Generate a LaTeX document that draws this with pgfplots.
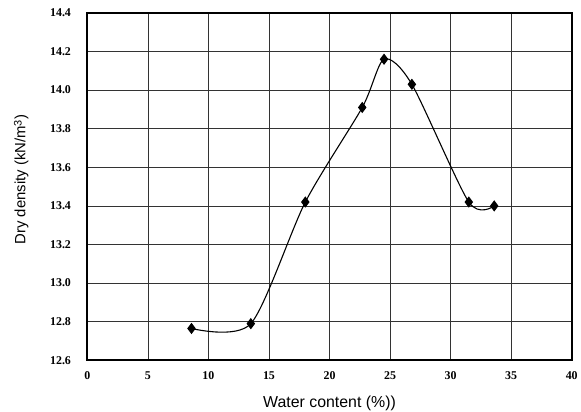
\documentclass[border=0pt]{standalone}
\usepackage{fontspec}
\setmainfont{Liberation Serif}
\setsansfont{Liberation Sans}
\usepackage{pgfplots}
\pgfplotsset{compat=1.18}

\begin{document}
\begin{tikzpicture}
\begin{axis}[
    scale only axis, width=488pt, height=350pt,
    xmin=0, xmax=40, ymin=12.6, ymax=14.4,
    xtick={0,5,...,40}, ytick={12.6,12.8,...,14.41},
    grid=major, major grid style={black!80, line width=0.6pt},
    axis line style={line width=2.2pt},
    major tick length=0pt,
    tick label style={font=\bfseries\fontsize{12}{14}\selectfont},
    /pgf/number format/assume math mode=true,
    yticklabel style={/pgf/number format/fixed, /pgf/number format/fixed zerofill, /pgf/number format/precision=1, xshift=-13pt},
    xticklabel style={yshift=-8pt},
    xlabel={\sffamily\fontsize{16}{18}\selectfont Water content (\%))},
    ylabel={\sffamily\fontsize{15}{17}\selectfont Dry density (kN/m\raisebox{0.5ex}{\fontsize{11}{12}\selectfont 3})},
    xlabel style={at={(axis description cs:0.5,0)}, anchor=north, inner sep=0pt, yshift=-36pt},
    ylabel style={at={(axis description cs:-0.121,0.52)}, anchor=south, inner sep=0pt},
]
\addplot[black, line width=1.1pt, smooth, tension=0.45, mark=diamond*, mark size=4.8pt, mark options={solid, fill=black}]
    coordinates {(8.6,12.765) (13.5,12.79) (18.0,13.42) (22.7,13.91) (24.5,14.16) (26.8,14.03) (31.5,13.42) (33.6,13.40)};
\end{axis}
\path ([yshift=13pt]current axis.north);
\path ([xshift=-88pt]current axis.west);
\path ([yshift=-52pt]current axis.south);
\end{tikzpicture}
\end{document}
